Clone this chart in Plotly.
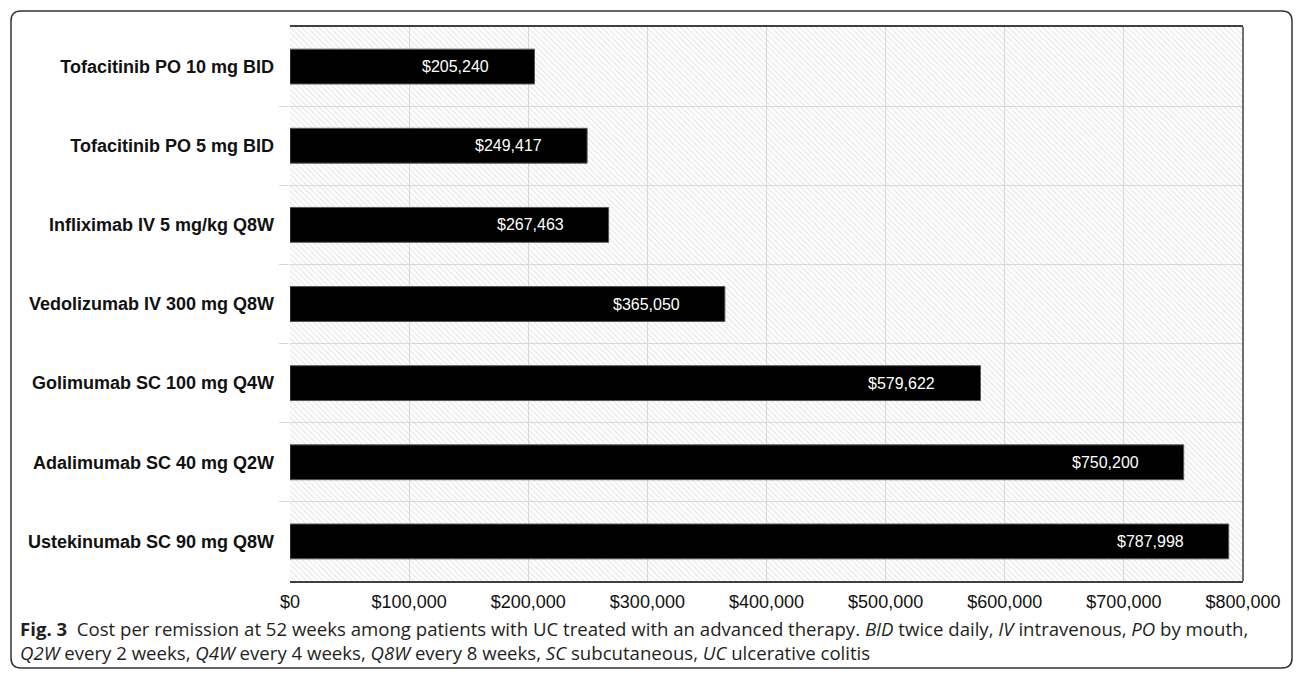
import plotly.graph_objects as go

# Cost per remission at 52 weeks, by advanced therapy (USD)
therapies = [
    "Tofacitinib PO 10 mg BID",
    "Tofacitinib PO 5 mg BID",
    "Infliximab IV 5 mg/kg Q8W",
    "Vedolizumab IV 300 mg Q8W",
    "Golimumab SC 100 mg Q4W",
    "Adalimumab SC 40 mg Q2W",
    "Ustekinumab SC 90 mg Q8W",
]
cost_per_remission = [205240, 249417, 267463, 365050, 579622, 750200, 787998]
x_tick_values = [0, 100000, 200000, 300000, 400000, 500000, 600000, 700000, 800000]

W, H = 1296, 676
ML, MR, MT, MB = 290, 53, 27, 95
PW, PH = W - ML - MR, H - MT - MB

n = len(therapies)
positions = list(range(n))
x_max = x_tick_values[-1]

fig = go.Figure()

# hatched plot background, drawn as one full-size bar beneath the data bars
fig.add_trace(go.Bar(
    x=[x_max], y=[(n - 1) / 2], width=[n], orientation="h",
    marker=dict(color="rgba(0,0,0,0)", line=dict(width=0),
                pattern=dict(shape="\\", fgcolor="#cfcfcf", bgcolor="rgba(0,0,0,0)",
                             size=4, solidity=0.3, fillmode="overlay")),
    hoverinfo="skip", showlegend=False,
))

fig.add_trace(go.Bar(
    x=cost_per_remission, y=positions, orientation="h",
    width=0.44,
    marker=dict(color="#000000", line=dict(color="#555555", width=1)),
    hoverinfo="x", showlegend=False,
))

for pos, val in zip(positions, cost_per_remission):
    fig.add_annotation(
        x=val, y=pos, text=f"${val:,}", showarrow=False,
        xanchor="right", xshift=-43,
        font=dict(family="Liberation Sans, Arial", size=16, color="#ffffff"),
    )

fig.update_xaxes(
    range=[0, x_max], tickvals=x_tick_values,
    ticktext=[f"${v:,}" for v in x_tick_values],
    tickfont=dict(family="Liberation Sans, Arial", size=18, color="#111111"),
    showgrid=True, gridcolor="#d9d9d9", gridwidth=1,
    showline=True, linecolor="#404040", linewidth=1.5, mirror=True,
    ticks="", zeroline=False, ticklabelstandoff=4,
)
fig.update_yaxes(
    range=[n - 0.5, -0.5],
    tickvals=positions, ticktext=[f"<b>{t}</b>" for t in therapies],
    tickfont=dict(family="Liberation Sans, Arial", size=18, color="#111111"),
    showgrid=False, zeroline=False, showline=False, ticks="",
    ticklabelstandoff=15,
    minor=dict(tickvals=[p + 0.5 for p in positions[:-1]], showgrid=True,
               gridcolor="#d9d9d9", gridwidth=1, ticks="outside",
               ticklen=10, tickcolor="#d9d9d9"),
)

# right edge of the plot frame
fig.add_shape(type="line", xref="x domain", yref="y domain",
              x0=1, x1=1, y0=0, y1=1, line=dict(color="#404040", width=1.5))


def px2paper(px, py):
    return (px - ML) / PW, 1 - (py - MT) / PH


# rounded outer frame
L, T, R, B, r = 11, 11, 1292, 668, 10
pts = [
    ("M", (L + r, T)), ("L", (R - r, T)), ("Q", (R, T), (R, T + r)),
    ("L", (R, B - r)), ("Q", (R, B), (R - r, B)),
    ("L", (L + r, B)), ("Q", (L, B), (L, B - r)),
    ("L", (L, T + r)), ("Q", (L, T), (L + r, T)),
]
path = ""
for cmd, *coords in pts:
    path += cmd + " " + " ".join("{:.5f},{:.5f}".format(*px2paper(*c)) for c in coords) + " "
path += "Z"
fig.add_shape(type="path", xref="paper", yref="paper", path=path,
              line=dict(color="#333333", width=1.5), fillcolor="rgba(0,0,0,0)")

# figure caption
cap_font = dict(family="Open Sans, Noto Sans", size=18.6, color="#231f20")
cx, cy = px2paper(18, 640)
fig.add_annotation(
    xref="paper", yref="paper", x=cx, y=cy, xanchor="left", yanchor="middle",
    showarrow=False, font=cap_font, align="left",
    text=("<b>Fig. 3</b>  Cost per remission at 52 weeks among patients with UC treated "
          "with an advanced therapy. <i>BID</i> twice daily, <i>IV</i> intravenous, "
          "<i>PO</i> by mouth,<br>"
          "<i>Q2W</i> every 2 weeks, <i>Q4W</i> every 4 weeks, <i>Q8W</i> every 8 weeks, "
          "<i>SC</i> subcutaneous, <i>UC</i> ulcerative colitis"),
)

fig.update_layout(
    width=W, height=H,
    margin=dict(l=ML, r=MR, t=MT, b=MB),
    plot_bgcolor="#ffffff", paper_bgcolor="#ffffff",
    barmode="overlay",
)

fig.write_html("out.html")
